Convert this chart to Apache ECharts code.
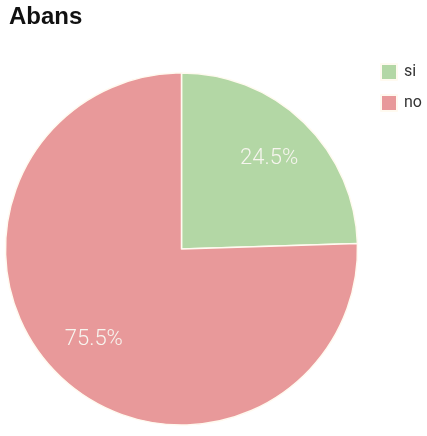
<!DOCTYPE html>
<html>
<head>
<meta charset="utf-8">
<script src="https://cdn.jsdelivr.net/npm/echarts@6/dist/echarts.min.js"></script>
<style>
html,body{margin:0;padding:0;background:#fff;overflow:hidden;}
#chart{width:427px;height:436px;}
</style>
</head>
<body>
<div id="chart"></div>
<script>
const titleText = "Abans";
const categories = ["si", "no"];
const values = [24.5, 75.5];
const colors = ["#b3d7a5", "#e8999a"];

const pieData = categories.map((c, i) => ({ name: c, value: values[i] }));

const chart = echarts.init(document.getElementById('chart'), null, { renderer: 'canvas' });
chart.setOption({
  animation: false,
  color: colors,
  title: {
    text: titleText,
    left: 9,
    top: 5,
    padding: 0,
    textStyle: { fontFamily: 'Liberation Sans, Arial, sans-serif', fontWeight: 'bold', fontSize: 24, color: '#111' }
  },
  legend: {
    orient: 'vertical',
    left: 380,
    top: 63,
    padding: 0,
    itemWidth: 16,
    itemHeight: 16,
    itemGap: 13,
    icon: 'rect',
    data: categories,
    textStyle: { fontFamily: 'Roboto, sans-serif', fontSize: 16, color: '#333', padding: [0, 0, 0, 2] }
  },
  series: [
    {
      type: 'pie',
      center: [181.5, 249],
      radius: [0, 176],
      startAngle: 90,
      clockwise: true,
      silent: true,
      label: { show: false },
      labelLine: { show: false },
      itemStyle: { borderColor: '#fffaf0', borderWidth: 1.5 },
      data: pieData
    },
    {
      type: 'pie',
      center: [181.5, 249],
      radius: [70, 176],
      startAngle: 90,
      clockwise: true,
      silent: true,
      itemStyle: { color: 'rgba(0,0,0,0)', borderWidth: 0 },
      label: {
        show: true,
        position: 'inside',
        formatter: p => p.value.toFixed(1) + '%',
        fontFamily: 'Roboto, sans-serif',
        fontWeight: 300,
        fontSize: 22,
        color: '#f7f5ef'
      },
      labelLine: { show: false },
      legendHoverLink: false,
      data: pieData.map(d => ({ name: d.name + ' ', value: d.value }))
    }
  ]
});
</script>
</body>
</html>
